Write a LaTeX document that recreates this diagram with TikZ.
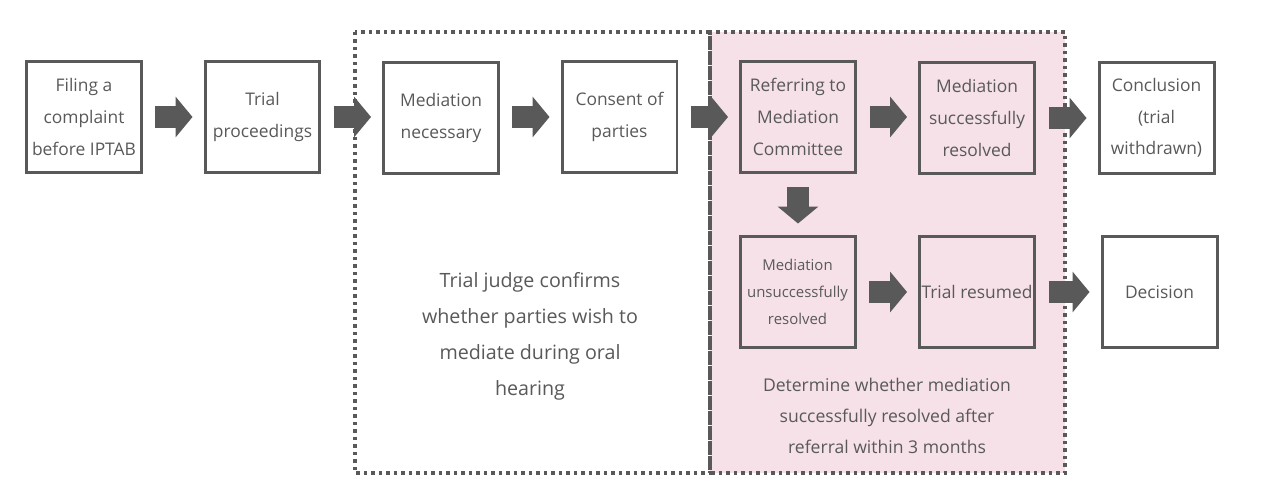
\documentclass[tikz,border=0pt]{standalone}
\usepackage{fontspec}
\setmainfont{Open Sans}
\usetikzlibrary{
    arrows.meta,
    positioning,
    calc
}
\definecolor{boxgray}{RGB}{89, 89, 89}
\definecolor{mediationpink}{RGB}{246, 225, 233}

\begin{document}
\begin{tikzpicture}[
        x=0.02cm, y=-0.02cm,
        box/.style={rectangle, draw=boxgray, line width=0.06cm, minimum width=2.3cm, minimum height=2.24cm, align=center, text=boxgray, inner sep=1pt, font=\fontsize{9.9}{18}\selectfont},
        smallbox/.style={box, font=\fontsize{8.5}{15.4}\selectfont},
        note/.style={align=center, text=boxgray},
        zone/.style={draw=boxgray, line width=0.07cm, dash pattern=on 0.07cm off 0.08cm},
        arrow/.style={draw=boxgray, line width=0.44cm, -{Triangle[length=0.34cm, width=0.8cm]}, shorten <=0.25cm, shorten >=0.22cm}
    ]
        \useasboundingbox (0,0) rectangle (1270,500);

        % Zones
        \fill[mediationpink] (710,32) rectangle (1065,473);
        \draw[zone] (355,32) rectangle (710,473);
        \draw[zone] (710,32) rectangle (1065,473);

        % Row 1: Trial
        \node[box] (filing) at (84,117) {Filing a\\complaint\\before IPTAB};
        \node[box] (trial) at (262.5,117) {Trial\\proceedings};
        \node[box] (mednec) at (441,118) {Mediation\\necessary};
        \node[box] (consent) at (619.5,117) {Consent of\\parties};
        \node[box] (refer) at (798,117) {Referring to\\Mediation\\Committee};
        \node[box] (medok) at (977,118) {Mediation\\successfully\\resolved};
        \node[box] (conclusion) at (1156.5,118) {Conclusion\\(trial\\withdrawn)};

        % Row 2: Outcome
        \node[smallbox] (medfail) at (797.5,292) {Mediation\\unsuccessfully\\resolved};
        \node[box] (resumed) at (977,292) {Trial resumed};
        \node[box] (decision) at (1159.5,292) {Decision};

        % Notes
        \node[note, font=\fontsize{11.2}{20.5}\selectfont] (judgenote) at (530,336) {Trial judge confirms\\whether parties wish to\\mediate during oral\\hearing};
        \node[note, font=\fontsize{10}{17.6}\selectfont] (refnote) at (887,416) {Determine whether mediation\\successfully resolved after\\referral within 3 months};

        % Arrows
        \draw[arrow] (filing.east) -- (filing.east -| trial.west);
        \draw[arrow] (trial.east) -- (trial.east -| mednec.west);
        \draw[arrow] (mednec.east |- consent.west) -- (consent.west);
        \draw[arrow] (consent.east) -- (consent.east -| refer.west);
        \draw[arrow] (refer.east) -- (refer.east -| medok.west);
        \draw[arrow] (medok.east) -- (medok.east -| conclusion.west);
        \draw[arrow] (refer.south) -- (refer.south |- medfail.north);
        \draw[arrow] (medfail.east) -- (medfail.east -| resumed.west);
        \draw[arrow] (resumed.east) -- (resumed.east -| decision.west);
    \end{tikzpicture}
\end{document}
